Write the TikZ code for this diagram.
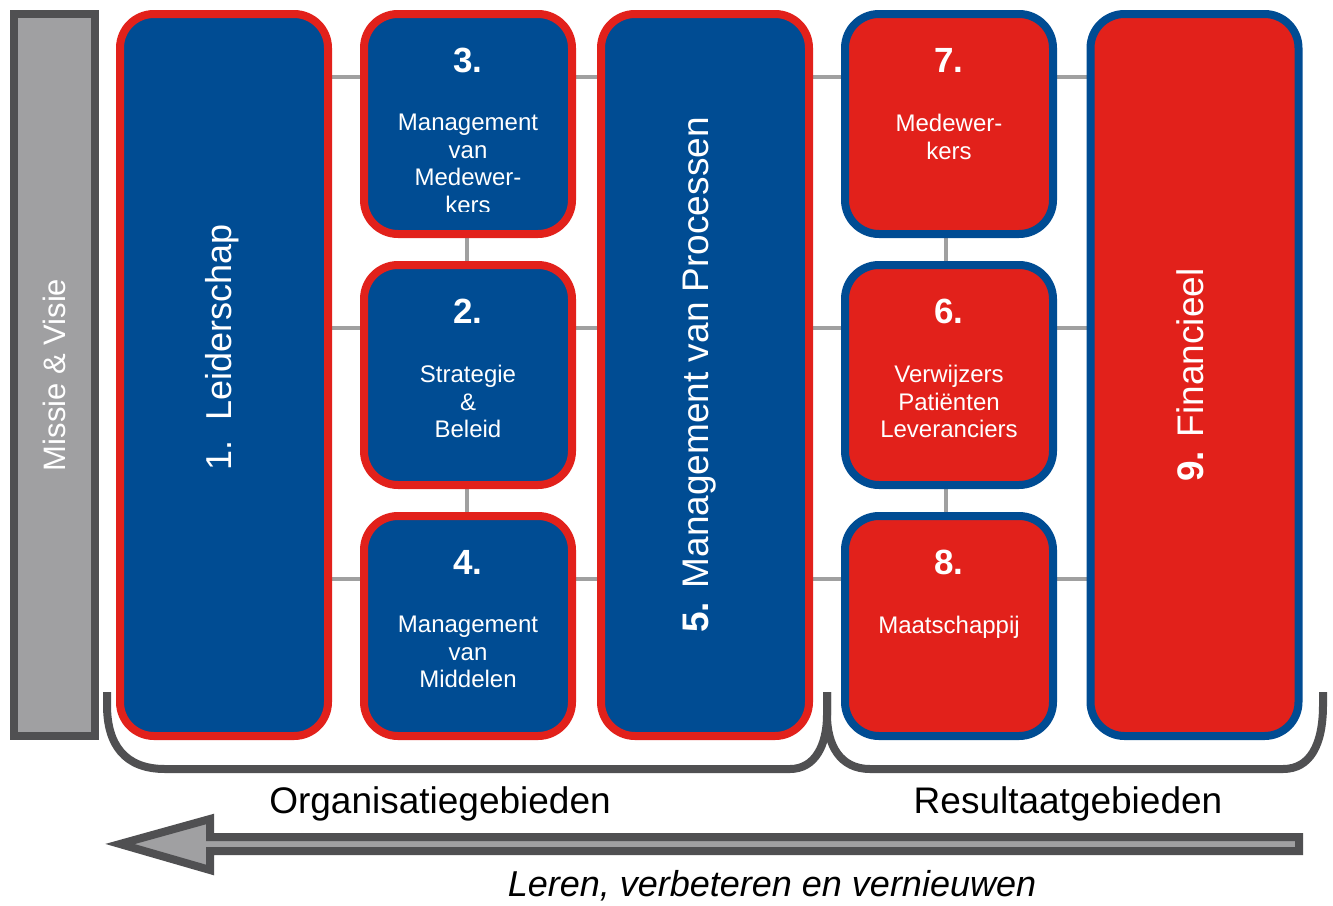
\documentclass[tikz,border=0pt]{standalone}
\usepackage{fontspec}
\setmainfont{Liberation Sans}
\usetikzlibrary{backgrounds}
\definecolor{efqmblue}{RGB}{0,76,147}
\definecolor{efqmred}{RGB}{226,33,27}
\definecolor{greyfill}{RGB}{160,160,162}
\definecolor{darkgrey}{RGB}{80,80,82}
\definecolor{linkgrey}{RGB}{160,160,160}
\begin{document}
\begin{tikzpicture}[x=1pt,y=-1pt,
  area/.style={draw,line width=8pt,rounded corners=34pt,minimum width=208pt,inner sep=0pt},
  orga/.style={area,draw=efqmred,fill=efqmblue},
  resu/.style={area,draw=efqmblue,fill=efqmred},
  tall/.style={minimum height=722pt},
  small/.style={minimum height=220pt},
  nr/.style={text=white,anchor=base,font=\fontsize{35}{35}\selectfont\bfseries},
  txt/.style={text=white,align=center,anchor=north,inner sep=0pt,font=\fontsize{24}{27.5}\selectfont},
  vert/.style={text=white,rotate=90,font=\fontsize{36}{36}\selectfont},
  link/.style={draw=linkgrey,line width=4.5pt},
  brace/.style={draw=darkgrey,line width=8pt},
  big/.style={anchor=base,font=\fontsize{37}{37}\selectfont}]
  \useasboundingbox (0,0) rectangle (1333,905);

  % mission column and the nine areas
  \node[draw=darkgrey,fill=greyfill,line width=8pt,minimum width=81pt,minimum height=722pt,inner sep=0pt] (miss) at (54.5,375) {};
  \node[orga,tall] (lead) at (224,375) {};
  \node[orga,small] (staff) at (468,124) {};
  \node[orga,small] (strat) at (468,375) {};
  \node[orga,small] (means) at (468,626) {};
  \node[orga,tall] (proc) at (705,375) {};
  \node[resu,small] (staffres) at (949,124) {};
  \node[resu,small] (custres) at (949,375) {};
  \node[resu,small] (socres) at (949,626) {};
  \node[resu,tall] (fin) at (1194.5,375) {};

  % grey grid behind the boxes
  \begin{scope}[on background layer]
    \foreach \r/\n in {staff/r1,strat/r2,means/r3} {
      \coordinate (\n) at ([yshift=47pt]\r.center);
      \draw[link] (lead |- \n) -- (fin |- \n);
    }
    \draw[link] ([xshift=-1pt]staff.center) -- ([xshift=-1pt]means.center);
    \draw[link] ([xshift=-3pt]staffres.center) -- ([xshift=-3pt]socres.center);
  \end{scope}

  \node[vert,font=\fontsize{31}{31}\selectfont] (misst) at (miss.center) {Missie \& Visie};
  \node[vert] (leadt) at ([xshift=-2pt,yshift=28pt]lead.center) {1.\ \ Leiderschap};
  \node[vert,font=\fontsize{37}{37}\selectfont] (proct) at ([xshift=-5pt]proc.center) {\textbf{5.} Management van Processen};
  \node[vert,font=\fontsize{37}{37}\selectfont] (fint) at ([xshift=-4pt]fin.center) {\textbf{9.} Financieel};

  \node[nr] (n3) at ([yshift=-62.5pt]staff.north) {3.};
  \node[nr] (n2) at ([yshift=-62.5pt]strat.north) {2.};
  \node[nr] (n4) at ([yshift=-62.5pt]means.north) {4.};
  \node[nr] (n7) at ([yshift=-62.5pt]staffres.north) {7.};
  \node[nr] (n6) at ([yshift=-62.5pt]custres.north) {6.};
  \node[nr] (n8) at ([yshift=-62.5pt]socres.north) {8.};

  \begin{scope}
    \clip (359,10) rectangle (577,211);
    \node[txt] (t3) at ([yshift=-104pt]staff.north) {Management\\van\\Medewer-\\kers};
  \end{scope}
  \node[txt] (t2) at ([yshift=-104pt]strat.north) {Strategie\\\&\\Beleid};
  \node[txt] (t4) at ([yshift=-104pt]means.north) {Management\\van\\Middelen};
  \node[txt] (t7) at ([yshift=-104pt]staffres.north) {Medewer-\\kers};
  \node[txt] (t6) at ([yshift=-104pt]custres.north) {Verwijzers\\Patiënten\\Leveranciers};
  \node[txt] (t8) at ([yshift=-104pt]socres.north) {Maatschappij};

  % brackets under the two groups
  \draw[brace] (107,692) -- (107,705) .. controls (107,745) and (125,769) .. (165,769) -- (790,769)
    .. controls (815,769) and (827,745) .. (827,715) -- (827,692);
  \draw[brace] (827,692) -- (827,715) .. controls (827,745) and (840,769) .. (870,769) -- (1283,769)
    .. controls (1310,769) and (1323,745) .. (1323,705) -- (1323,692);
  \node[big] (orgt) at (440,813) {Organisatiegebieden};
  \node[big] (rest) at (1068,813) {Resultaatgebieden};

  % learning arrow
  \draw[draw=darkgrey,fill=greyfill,line width=8pt] (1299,837) -- (210,837) -- (210,819) -- (120,844)
    -- (210,870) -- (210,851) -- (1299,851) -- cycle;
  \node[big,font=\fontsize{36}{36}\selectfont\itshape] (learn) at (772,896) {Leren, verbeteren en vernieuwen};
\end{tikzpicture}
\end{document}
